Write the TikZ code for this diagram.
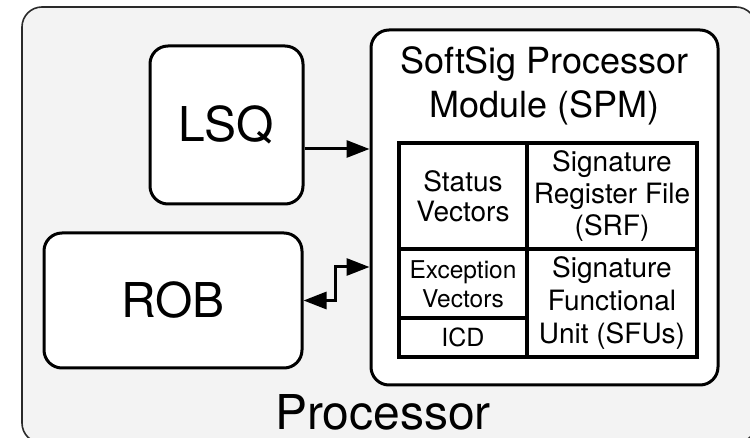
\documentclass[tikz,border=0pt]{standalone}
\usepackage{fontspec}
\setmainfont{TeX Gyre Heros}
\usetikzlibrary{arrows.meta}

\definecolor{procfill}{HTML}{F3F3F3}
\definecolor{procline}{HTML}{2A2A2A}

\tikzset{
  unit/.style={draw=black, line width=3pt, fill=white, rounded corners=18pt,
    inner sep=0pt, align=center},
  cell/.style={draw=black, line width=3.4pt, fill=white, inner sep=0pt, align=center},
  link/.style={line width=3pt, line cap=butt},
  tip/.style={-{Triangle[length=23pt,width=17pt]}},
  twotip/.style={{Triangle[length=23pt,width=17pt]}-{Triangle[length=23pt,width=17pt]}},
  bigfont/.style={font=\fontsize{48}{56}\selectfont},
  titlefont/.style={font=\fontsize{36}{44}\selectfont},
}

\begin{document}
\begin{tikzpicture}[x=1pt, y=-1pt]
  \useasboundingbox (0,0) rectangle (750,438);
  \clip (0,0) rectangle (750,438);
  \fill[white] (0,0) rectangle (750,438);

  % processor enclosure (runs past the right and bottom edges)
  \node[draw=procline, line width=1.6pt, fill=procfill, rounded corners=20pt,
        minimum width=734pt, minimum height=436pt, inner sep=0pt]
        (proc) at (389,225) {};
  \node[bigfont, anchor=base, inner sep=0pt, text depth=0pt]
        (proclabel) at (383,429) {Processor};

  % load/store queue and reorder buffer
  \node[unit, bigfont, minimum width=153pt, minimum height=158pt]
        (lsq) at (226.5,125) {LSQ};
  \node[unit, bigfont, minimum width=258pt, minimum height=135pt]
        (rob) at (173,300.5) {ROB};

  % SoftSig processor module
  \node[unit, minimum width=347pt, minimum height=355pt]
        (spm) at (544.5,207.5) {};
  \node[titlefont, align=center] (spmtitle) at (544.5,86)
        {SoftSig Processor\\Module (SPM)};

  % internal structures of the module
  \node[cell, font=\fontsize{28}{30}\selectfont, minimum width=128pt, minimum height=106pt]
        (status) at (463,196) {Status\\Vectors};
  \node[cell, font=\fontsize{28}{32}\selectfont, minimum width=170pt, minimum height=106pt]
        (srf) at (612,196) {Signature\\Register File\\(SRF)};
  \node[cell, font=\fontsize{24.5}{29}\selectfont, minimum width=128pt, minimum height=69pt]
        (exc) at (463,284) {Exception\\Vectors};
  \node[cell, font=\fontsize{25}{29}\selectfont, minimum width=128pt, minimum height=39pt]
        (icd) at (463,337.5) {ICD};
  \node[cell, font=\fontsize{28}{33}\selectfont, minimum width=170pt, minimum height=108pt]
        (sfu) at (612,303) {Signature\\Functional\\Unit (SFUs)};

  % connections
  \coordinate (lsqout) at ([yshift=-24pt]lsq.east);
  \draw[link, tip] (lsqout) -- (spm.west |- lsqout);
  \coordinate (robjog) at (335,267);
  \draw[link, twotip] (rob.east) -| (robjog) -- (spm.west |- robjog);
\end{tikzpicture}
\end{document}
